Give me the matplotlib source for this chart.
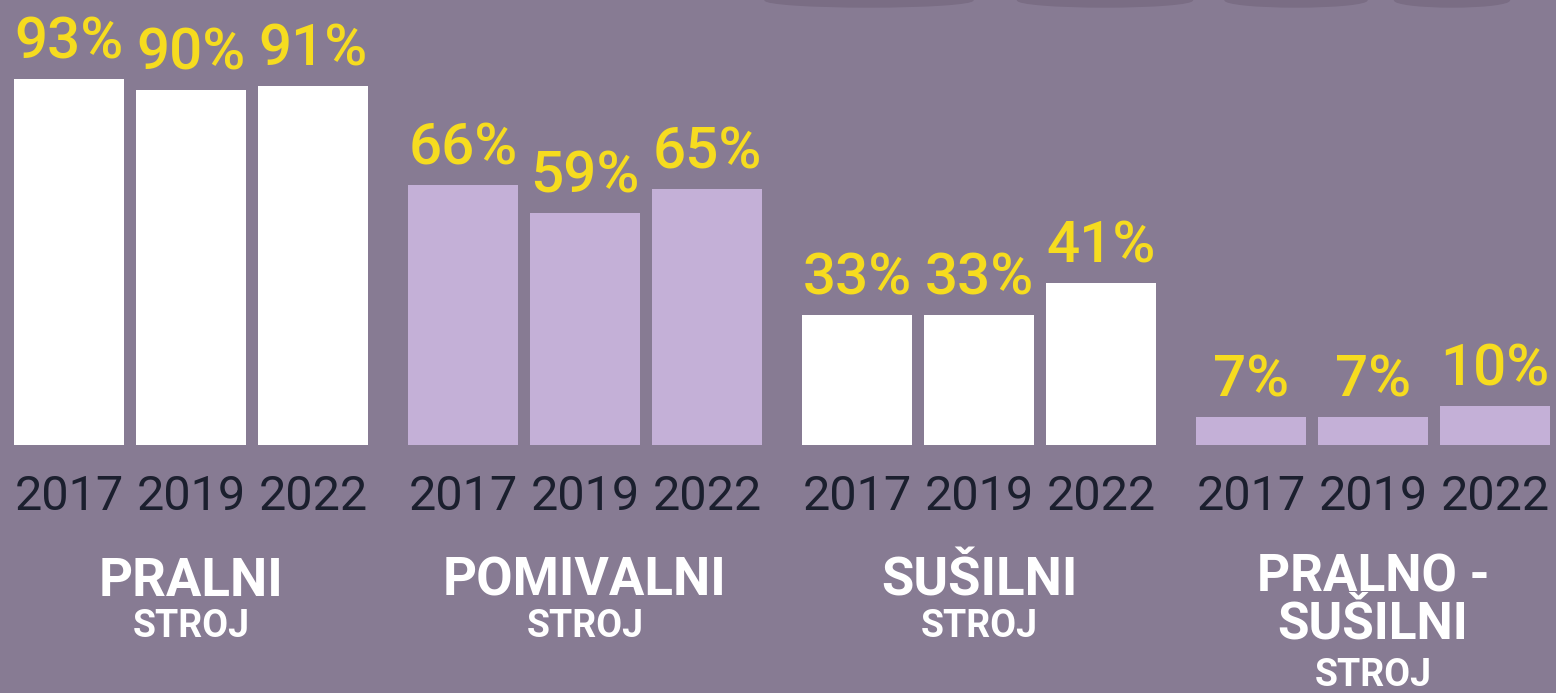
import matplotlib.pyplot as plt
from matplotlib.patches import Ellipse
import numpy as np

# data
categories = [["PRALNI", "STROJ"],
              ["POMIVALNI", "STROJ"],
              ["SUŠILNI", "STROJ"],
              ["PRALNO -", "SUŠILNI", "STROJ"]]
years = ["2017", "2019", "2022"]
values = [[93, 90, 91],
          [66, 59, 65],
          [33, 33, 41],
          [7, 7, 10]]

BG = "#877b93"
BAR_COLORS = ["#ffffff", "#c4b0d7", "#ffffff", "#c4b0d7"]
YELLOW = "#f6dc1f"
DARK = "#1b1f2e"

plt.rcParams['font.family'] = ['Roboto', 'DejaVu Sans']

fig = plt.figure(figsize=(15.56, 6.93), dpi=100, facecolor=BG)
ax = fig.add_axes([0, 0, 1, 1])
ax.set_facecolor(BG)

group_step = 394 / 122  # spacing between groups in bar units
px = 3.94  # pixels per percent

for g, vals in enumerate(values):
    xs = g * group_step + np.arange(len(vals))
    ax.bar(xs, vals, width=0.9, color=BAR_COLORS[g], linewidth=0)
    for x, v, yr in zip(xs, vals, years):
        ax.text(x, v + 5.2, f"{v}%", ha='center', va='baseline',
                fontsize=42, fontweight='medium', color=YELLOW)
        ax.text(x, -16.5, yr, ha='center', va='baseline',
                fontsize=35, color=DARK)
    center = xs.mean()
    lines = categories[g]
    if len(lines) == 2:
        ys = [-38.2, -48.7]
        sizes = [38, 27]
    else:
        ys = [-37.2, -49.0, -61.2]
        sizes = [37, 37, 27]
    for txt, y, s in zip(lines, ys, sizes):
        ax.text(center, y, txt, ha='center', va='baseline', fontsize=s,
                fontweight='bold', color='white')

# dark shapes cut off at the top edge
for cx, w in [(869, 208), (1105, 175), (1296, 142), (1452, 115)]:
    ax.add_patch(Ellipse((cx / 1556, 1.0), w / 1556, 14 / 693,
                         transform=ax.transAxes, color="#7a6d84",
                         clip_on=False, zorder=0))

ax.set_xlim(-69 / 122, (1556 - 69) / 122)
ax.set_ylim(-(693 - 445) / px, 445 / px)
ax.axis('off')

fig.savefig("out.png", dpi=100, facecolor=BG)
